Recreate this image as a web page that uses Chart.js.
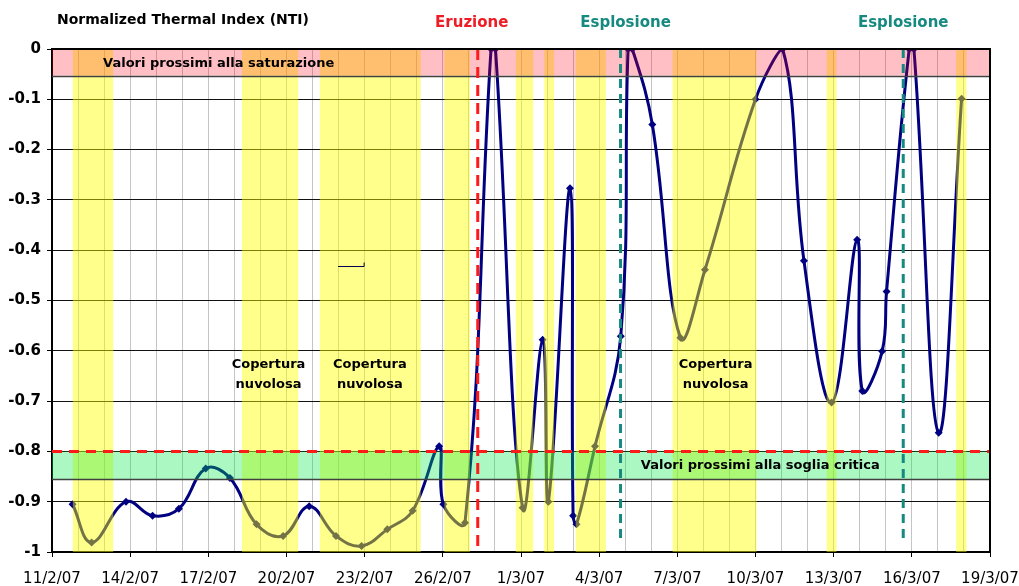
<!DOCTYPE html>
<html>
<head>
<meta charset="utf-8">
<script src="https://cdn.jsdelivr.net/npm/chart.js@4.4.0/dist/chart.umd.min.js"></script>
<style>
  html, body { margin: 0; padding: 0; background: #fff; }
</style>
</head>
<body>
<canvas id="nti-chart" width="1019" height="586"></canvas>
<script>
// x = days since 11/2/07
const dayOffsets = [
  0.79, 1.52, 2.84, 3.86, 4.87, 5.90, 6.83, 7.85, 8.87, 9.87,
  10.90, 11.88, 12.87, 13.84, 14.86, 15.02, 15.85, 16.85, 17.02, 18.06,
  18.83, 19.05, 19.88, 20.00, 20.13, 20.84, 21.83, 22.11, 22.27, 23.04,
  24.12, 25.06, 27.00, 28.04, 28.86, 29.92, 30.90, 31.10, 31.86, 32.03,
  32.90, 33.08, 34.03, 34.91
];
const ntiValues = [
  -0.905, -0.981, -0.900, -0.928, -0.914, -0.834, -0.853, -0.945, -0.968, -0.909,
  -0.968, -0.988, -0.955, -0.918, -0.790, -0.905, -0.942, 0, 0, -0.912,
  -0.578, -0.900, -0.277, -0.928, -0.945, -0.790, -0.571, 0, 0, -0.150,
  -0.574, -0.439, -0.100, 0, -0.421, -0.703, -0.379, -0.680, -0.601, -0.482,
  0, 0, -0.763, -0.099
];
const xTickLabels = ['11/2/07', '14/2/07', '17/2/07', '20/2/07', '23/2/07', '26/2/07', '1/3/07',
  '4/3/07', '7/3/07', '10/3/07', '13/3/07', '16/3/07', '19/3/07'];
const yTickLabels = ['-1', '-0.9', '-0.8', '-0.7', '-0.6', '-0.5', '-0.4', '-0.3', '-0.2', '-0.1', '0'];

// cloud cover periods (days)
const cloudStart = [0.80, 7.29, 10.28, 15.06, 17.80, 18.89, 20.10, 23.82, 29.73, 34.70];
const cloudEnd   = [2.35, 9.45, 14.15, 16.04, 18.47, 19.27, 21.26, 27.04, 30.11, 35.10];

const eruptionDay = 16.34;
const explosionDays = [21.82, 32.67];
const saturationBand = [0, -0.053];
const criticalBand = [-0.8, -0.855];
const criticalThreshold = -0.8;

const FONT = 'DejaVu Sans';

function drawText(ctx, text, x, y, font, color, align) {
  ctx.font = font;
  ctx.fillStyle = color;
  ctx.textAlign = align || 'left';
  ctx.textBaseline = 'alphabetic';
  ctx.fillText(text, x, y);
}

const overlayPlugin = {
  id: 'overlayPlugin',
  afterDatasetsDraw(chart) {
    const {ctx, chartArea: a, scales: {x, y}} = chart;
    ctx.save();
    ctx.beginPath();
    ctx.rect(a.left, a.top, a.right - a.left, a.bottom - a.top);
    ctx.clip();

    // cloud cover, drawn over the series so the line shows through
    ctx.fillStyle = 'rgba(255,255,0,0.45)';
    cloudStart.forEach((s, i) => {
      const x0 = x.getPixelForValue(s), x1 = x.getPixelForValue(cloudEnd[i]);
      ctx.fillRect(x0, a.top, x1 - x0, a.bottom - a.top);
    });

    // saturation + critical bands
    const bands = [
      {lim: saturationBand, fill: 'rgba(255,0,25,0.25)'},
      {lim: criticalBand, fill: 'rgba(0,235,70,0.33)'}
    ];
    bands.forEach(b => {
      const y0 = y.getPixelForValue(b.lim[0]), y1 = y.getPixelForValue(b.lim[1]);
      ctx.fillStyle = b.fill;
      ctx.fillRect(a.left, y0, a.right - a.left, y1 - y0);
      ctx.strokeStyle = '#404040';
      ctx.lineWidth = 1.5;
      ctx.beginPath();
      ctx.moveTo(a.left, Math.round(y1) + 0.5);
      ctx.lineTo(a.right, Math.round(y1) + 0.5);
      ctx.stroke();
    });

    // critical threshold
    const yt = y.getPixelForValue(criticalThreshold);
    ctx.strokeStyle = '#ff1a1a';
    ctx.lineWidth = 3;
    ctx.setLineDash([10, 7]);
    ctx.beginPath();
    ctx.moveTo(a.left, yt);
    ctx.lineTo(a.right, yt);
    ctx.stroke();

    // eruption / explosions
    const xe = x.getPixelForValue(eruptionDay);
    ctx.setLineDash([11, 7]);
    ctx.beginPath();
    ctx.moveTo(xe, a.top);
    ctx.lineTo(xe, a.bottom);
    ctx.stroke();

    ctx.strokeStyle = '#168a80';
    ctx.setLineDash([9, 6]);
    explosionDays.forEach(d => {
      const xx = x.getPixelForValue(d);
      ctx.beginPath();
      ctx.moveTo(xx, a.top);
      ctx.lineTo(xx, y.getPixelForValue(-0.98));
      ctx.stroke();
    });
    ctx.setLineDash([]);

    // small leftover stroke in the middle of the plot
    ctx.strokeStyle = '#000050';
    ctx.lineWidth = 1;
    const sy = Math.round(y.getPixelForValue(-0.431)) + 0.5;
    const sx0 = x.getPixelForValue(10.98), sx1 = x.getPixelForValue(11.98);
    ctx.beginPath();
    ctx.moveTo(sx0, sy);
    ctx.lineTo(sx1, sy);
    ctx.lineTo(sx1, sy - 4);
    ctx.stroke();
    ctx.restore();

    // plot border top / right
    ctx.save();
    ctx.strokeStyle = '#000';
    ctx.lineWidth = 2;
    ctx.beginPath();
    ctx.moveTo(a.left, a.top);
    ctx.lineTo(a.right, a.top);
    ctx.lineTo(a.right, a.bottom);
    ctx.stroke();

    // texts
    drawText(ctx, 'Normalized Thermal Index (NTI)', 57, 24, 'bold 14px ' + FONT, '#000');
    drawText(ctx, 'Eruzione', xe - 6, 27, 'bold 15px ' + FONT, '#ee1c24', 'center');
    drawText(ctx, 'Esplosione', x.getPixelForValue(explosionDays[0]) + 5, 27, 'bold 15px ' + FONT, '#168a80', 'center');
    drawText(ctx, 'Esplosione', x.getPixelForValue(explosionDays[1]), 27, 'bold 15px ' + FONT, '#168a80', 'center');

    const bold13 = 'bold 13px ' + FONT;
    drawText(ctx, 'Valori prossimi alla saturazione', x.getPixelForValue(1.96), y.getPixelForValue(-0.035), bold13, '#000');
    drawText(ctx, 'Valori prossimi alla soglia critica', x.getPixelForValue(22.6), y.getPixelForValue(-0.835), bold13, '#000');

    [8.31, 12.2, 25.47].forEach(d => {
      const cx = x.getPixelForValue(d);
      drawText(ctx, 'Copertura', cx, y.getPixelForValue(-0.634), bold13, '#000', 'center');
      drawText(ctx, 'nuvolosa', cx, y.getPixelForValue(-0.674), bold13, '#000', 'center');
    });
    ctx.restore();
  }
};

const ctx = document.getElementById('nti-chart').getContext('2d');
new Chart(ctx, {
  type: 'line',
  data: {
    datasets: [{
      data: dayOffsets.map((d, i) => ({x: d, y: ntiValues[i]})),
      borderColor: '#000080',
      backgroundColor: '#000080',
      borderWidth: 3,
      tension: 0.4,
      pointStyle: 'rectRot',
      pointRadius: 4,
      pointBorderWidth: 0,
      fill: false
    }]
  },
  options: {
    responsive: false,
    animation: false,
    layout: {padding: {left: 0, right: 29, top: 49, bottom: 0}},
    plugins: {legend: {display: false}, tooltip: {enabled: false}},
    scales: {
      x: {
        type: 'linear',
        min: 0,
        max: 36,
        afterFit(scale) {
          scale.height = 34;
          scale.paddingLeft = 0;
          scale.paddingRight = 0;
        },
        ticks: {
          stepSize: 1,
          autoSkip: false,
          maxRotation: 0,
          padding: 13,
          color: '#000',
          font: {family: FONT, size: 15},
          callback: (v) => (v % 3 === 0 ? xTickLabels[v / 3] : '')
        },
        grid: {
          color: (c) => (c.index === 0 ? 'transparent' : '#c4c4c4'),
          tickColor: (c) => (c.index % 3 === 0 ? '#000' : 'transparent'),
          tickLength: 5,
          lineWidth: 1
        },
        border: {color: '#000', width: 2}
      },
      y: {
        min: -1,
        max: 0,
        afterFit(scale) { scale.width = 52; },
        ticks: {
          stepSize: 0.1,
          padding: 6,
          color: '#000',
          font: {family: FONT, size: 15, weight: 'bold'},
          callback: (v, i) => yTickLabels[i]
        },
        grid: {color: '#111', tickColor: '#000', tickLength: 5, lineWidth: 1},
        border: {color: '#000', width: 2}
      }
    }
  },
  plugins: [overlayPlugin]
});
</script>
</body>
</html>
